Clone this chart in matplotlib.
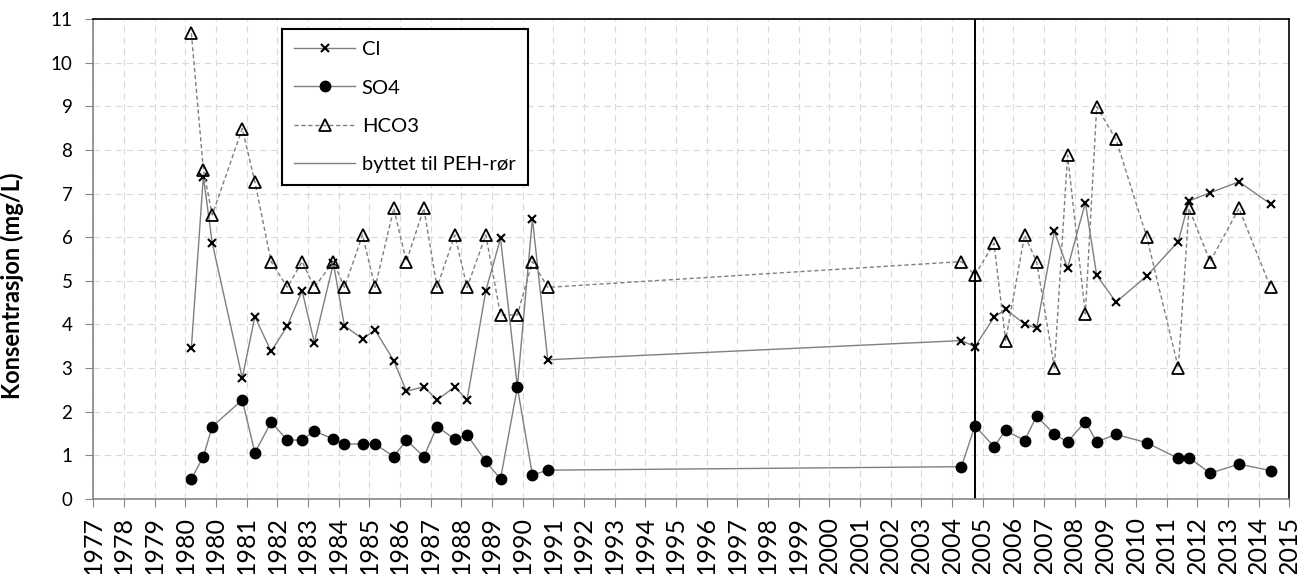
import matplotlib
matplotlib.use("Agg")
import matplotlib.pyplot as plt
from matplotlib.lines import Line2D

plt.rcParams['font.family'] = ['Lato', 'DejaVu Sans']

# akse-etiketter (Excel-datoakse, 1980 står to ganger)
aar_etiketter = ["1977", "1978", "1979", "1980", "1980"] + [str(a) for a in range(1981, 2016)]

# posisjon langs x-aksen (i tick-enheter)
x_pos = [3.20, 3.59, 3.88, 4.86, 5.27, 5.80, 6.33, 6.81, 7.21, 7.83, 8.19, 8.78,
         9.19, 9.80, 10.21, 10.78, 11.21, 11.79, 12.19, 12.80, 13.28, 13.83, 14.32, 14.82,
         28.31, 28.75, 29.37, 29.75, 30.37, 30.76, 31.34, 31.77, 32.35, 32.72, 33.35,
         34.35, 35.38, 35.73, 36.42, 37.36, 38.39]

cl = [3.47, 7.39, 5.87, 2.77, 4.18, 3.38, 3.97, 4.77, 3.58, 5.40, 3.97, 3.67,
      3.87, 3.17, 2.47, 2.57, 2.27, 2.57, 2.27, 4.77, 5.97, 2.57, 6.42, 3.19,
      3.63, 3.49, 4.16, 4.35, 4.01, 3.91, 6.13, 5.29, 6.79, 5.13, 4.51,
      5.11, 5.90, 6.83, 7.02, 7.27, 6.76]

so4 = [0.46, 0.97, 1.66, 2.27, 1.06, 1.76, 1.35, 1.35, 1.56, 1.37, 1.26, 1.26,
       1.26, 0.97, 1.35, 0.97, 1.66, 1.37, 1.47, 0.86, 0.46, 2.56, 0.55, 0.66,
       0.74, 1.68, 1.20, 1.57, 1.34, 1.90, 1.48, 1.31, 1.77, 1.31, 1.48,
       1.29, 0.93, 0.95, 0.59, 0.80, 0.65]

hco3 = [10.67, 7.55, 6.51, 8.49, 7.27, 5.44, 4.85, 5.44, 4.85, 5.44, 4.85, 6.05,
        4.85, 6.66, 5.44, 6.66, 4.85, 6.05, 4.85, 6.05, 4.22, 4.22, 5.44, 4.85,
        5.44, 5.13, 5.86, 3.63, 6.05, 5.44, 3.01, 7.88, 4.24, 8.99, 8.24,
        6.01, 3.01, 6.66, 5.44, 6.66, 4.85]

skifte_x = 28.75  # byttet til PEH-rør

GRAA = '#7f7f7f'


def plot():
    fig = plt.figure(figsize=(13.06, 5.74), dpi=100)
    ax = fig.add_axes([0.0714, 0.1307, 0.9158, 0.8362])

    l1, = ax.plot(x_pos, cl, color=GRAA, lw=1.0, marker='x', ms=5.5, mec='black', mew=1.5, label='Cl')
    l2, = ax.plot(x_pos, so4, color=GRAA, lw=1.0, marker='o', ms=7.5, mfc='black', mec='black', label='SO4')
    l3, = ax.plot(x_pos, hco3, color=GRAA, lw=1.0, linestyle=(0, (3, 2)), marker='^', ms=9,
                  mfc='none', mec='black', mew=1.3, label='HCO3')
    ax.axvline(skifte_x, color='black', lw=1.4)
    l4 = Line2D([], [], color=GRAA, lw=1.0, label='byttet til PEH-rør')

    ax.set_xlim(0, len(aar_etiketter) - 1)
    ax.set_ylim(0, 11)
    ax.set_xticks(range(len(aar_etiketter)))
    ax.set_xticklabels(aar_etiketter, rotation=90, fontsize=18)
    ax.set_yticks(range(12))
    ax.tick_params(axis='y', labelsize=13.5, length=6, color='#868686', pad=9)
    ax.tick_params(axis='x', length=6, color='#868686', pad=6)

    ax.grid(True, color='#dadada', linestyle=(0, (6, 4)), lw=0.8)
    ax.set_axisbelow(True)

    for s in ['left', 'bottom']:
        ax.spines[s].set_color('#868686')
        ax.spines[s].set_linewidth(1.2)
    for s in ['top', 'right']:
        ax.spines[s].set_color('black')
        ax.spines[s].set_linewidth(1.2)

    ax.set_ylabel("Konsentrasjon (mg/L)", fontsize=17, fontweight='bold')
    ax.yaxis.set_label_coords(-0.058, 0.444)

    leg = ax.legend(handles=[l1, l2, l3, l4], loc='upper left', bbox_to_anchor=(0.158, 0.979),
                    borderaxespad=0, fontsize=14.5, handlelength=3.0, handletextpad=0.35,
                    labelspacing=1.05, borderpad=0.6, fancybox=False, framealpha=1)
    leg.get_frame().set_edgecolor('black')
    leg.get_frame().set_linewidth(1.5)

    fig.savefig("out.png", dpi=100)


plot()
